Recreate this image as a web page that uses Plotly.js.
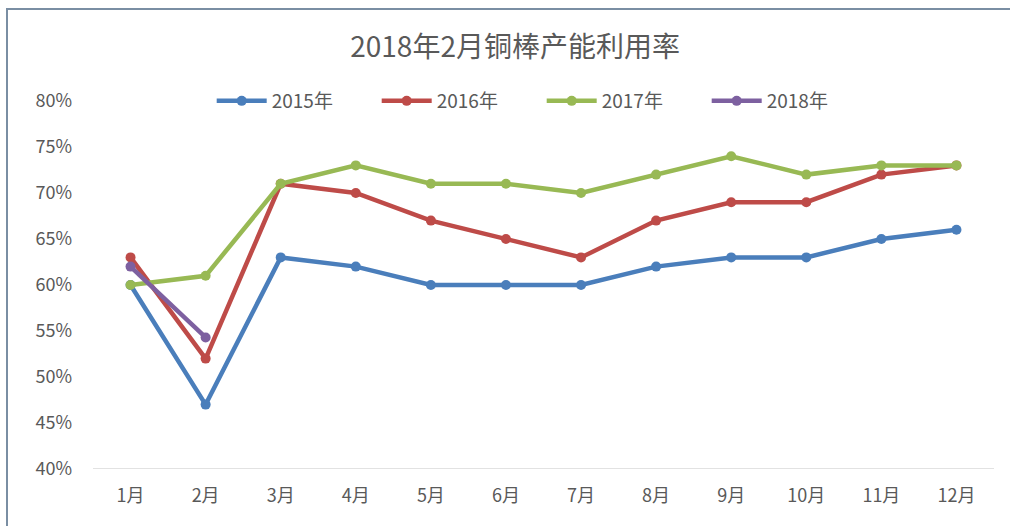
<!DOCTYPE html>
<html>
<head>
<meta charset="utf-8">
<script src="https://cdn.plot.ly/plotly-3.0.1.min.js"></script>
<style>
  html, body { margin: 0; padding: 0; background: #fff; }
  #wrap { position: relative; width: 1010px; height: 526px; overflow: hidden; }
  #frame { position: absolute; left: 6px; top: 8px; width: 1010px; height: 530px;
           border-left: 2px solid #7a8ea3; border-top: 2px solid #7a8ea3; box-sizing: border-box; pointer-events: none; }
  #chart { position: absolute; left: 0; top: 0; width: 1010px; height: 526px; }
</style>
</head>
<body>
<div id="wrap">
  <div id="chart"></div>
  <div id="frame"></div>
</div>
<script>
const months = ["1月","2月","3月","4月","5月","6月","7月","8月","9月","10月","11月","12月"];
const seriesNames = ["2015年","2016年","2017年","2018年"];
const v2015 = [0.60, 0.47, 0.63, 0.62, 0.60, 0.60, 0.60, 0.62, 0.63, 0.63, 0.65, 0.66];
const v2016 = [0.63, 0.52, 0.71, 0.70, 0.67, 0.65, 0.63, 0.67, 0.69, 0.69, 0.72, 0.73];
const v2017 = [0.60, 0.61, 0.71, 0.73, 0.71, 0.71, 0.70, 0.72, 0.74, 0.72, 0.73, 0.73];
const v2018 = [0.62, 0.543];
const colors = ["#4a7ebb", "#be4b48", "#98b954", "#7d60a0"];

const allVals = [v2015, v2016, v2017, v2018];
const traces = allVals.map((vals, i) => ({
  type: "scatter",
  mode: "lines+markers",
  name: seriesNames[i],
  x: months.slice(0, vals.length),
  y: vals,
  line: { color: colors[i], width: 4.5 },
  marker: { color: colors[i], size: 10 }
}));

const layout = {
  width: 1010, height: 526,
  margin: { l: 93, r: 16, t: 101, b: 57 },
  paper_bgcolor: "#ffffff",
  plot_bgcolor: "#ffffff",
  font: { family: "'Noto Sans CJK SC', 'Noto Sans', sans-serif", color: "#595959", size: 18 },
  title: { text: "2018年2月铜棒产能利用率", x: 0.51, xanchor: "center", y: 0.91, yanchor: "middle",
           font: { size: 28, color: "#595959" } },
  showlegend: true,
  legend: { orientation: "h", x: 0.498, xanchor: "center", y: 1.0, yanchor: "middle",
            font: { size: 19, color: "#595959" }, bgcolor: "rgba(0,0,0,0)",
            itemwidth: 50, entrywidth: 100, entrywidthmode: "pixels" },
  xaxis: {
    type: "category",
    range: [-0.5, 11.5],
    showgrid: false,
    zeroline: false,
    showline: false,
    ticks: "",
    tickfont: { size: 18, color: "#595959" },
    ticklabelstandoff: 14
  },
  yaxis: {
    range: [0.4, 0.8],
    dtick: 0.05,
    tickformat: ".0%",
    showgrid: false,
    zeroline: false,
    showline: false,
    ticks: "",
    tickfont: { size: 18, color: "#595959" },
    ticklabelstandoff: 20
  },
  shapes: [
    { type: "line", xref: "paper", yref: "y", x0: 0, x1: 1, y0: 0.4, y1: 0.4,
      line: { color: "#d9d9d9", width: 1.5 }, layer: "below" }
  ]
};

Plotly.newPlot("chart", traces, layout, { displayModeBar: false, staticPlot: true });
</script>
</body>
</html>
